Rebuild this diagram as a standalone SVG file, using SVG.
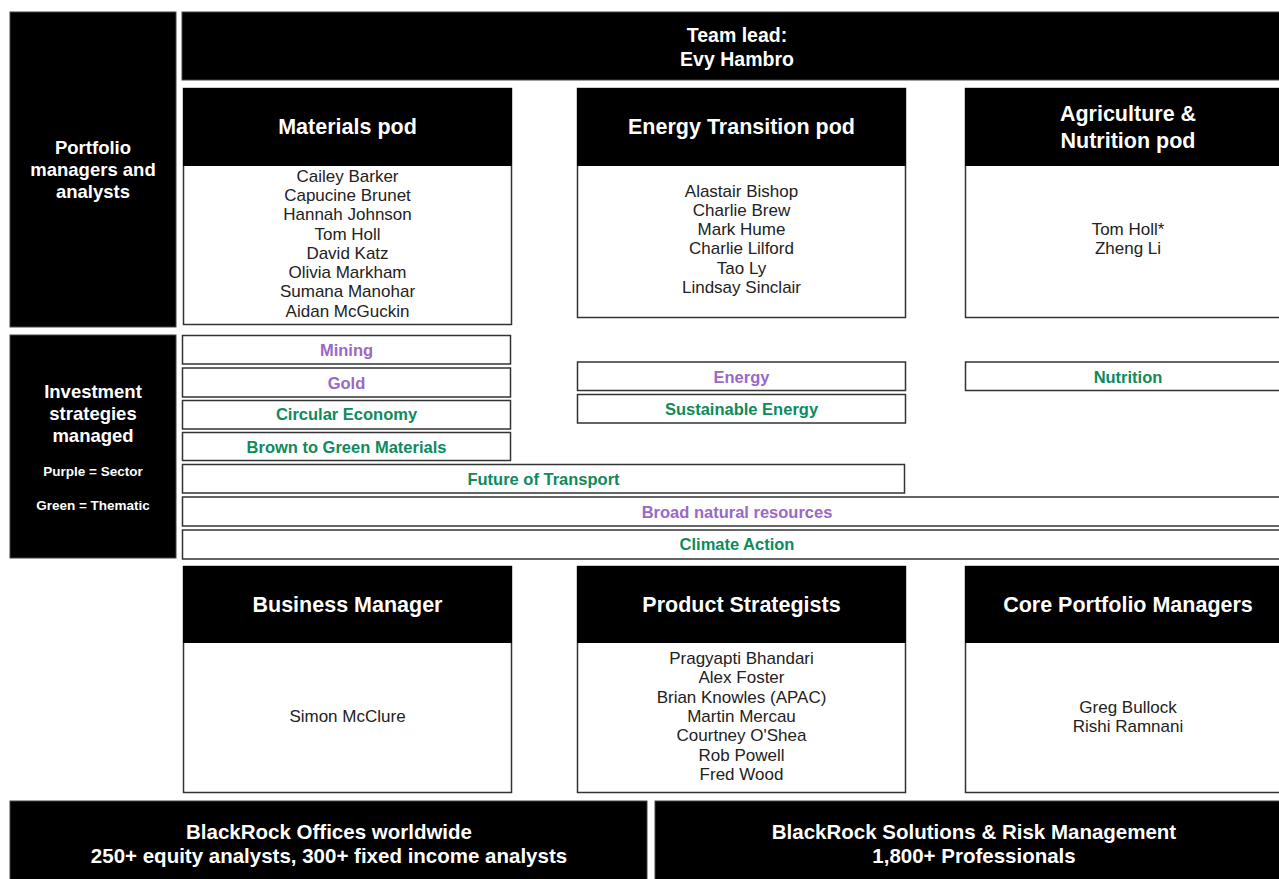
<svg xmlns="http://www.w3.org/2000/svg" width="1279" height="879" viewBox="0 0 1279 879">
<style>
.blk{fill:#000;stroke:#444;stroke-width:1}
.box{fill:#fff;stroke:#333;stroke-width:1.5}
text{font-family:"Liberation Sans",Arial,sans-serif;text-anchor:middle}
.hd{font-weight:bold;font-size:21.5px;fill:#fff}
.side{font-weight:bold;font-size:18.5px;fill:#fff}
.sm{font-weight:bold;font-size:13.5px;fill:#fff}
.nm{font-size:17px;fill:#222}
.lab{font-weight:bold;font-size:16.5px}
.pu{fill:#9a68c6}
.gr{fill:#0e8a5c}
.bt{font-weight:bold;font-size:19.5px;fill:#fff}
.bt2{font-weight:bold;font-size:20.5px;fill:#fff}
</style>
<rect width="1279" height="879" fill="#fff"/>
<g id="connectors"/>

<g id="side-portfolio">
<rect class="blk" x="10" y="12" width="166" height="315"/>
<text class="side" x="93" y="154">Portfolio</text>
<text class="side" x="93" y="176">managers and</text>
<text class="side" x="93" y="198">analysts</text>
</g>

<g id="team-lead">
<rect class="blk" x="182" y="12" width="1110" height="68"/>
<text class="bt" x="737" y="42">Team lead:</text>
<text class="bt" x="737" y="66">Evy Hambro</text>
</g>

<g id="materials-pod">
<rect class="box" x="183.5" y="88.5" width="328" height="236"/>
<rect x="183" y="88" width="329" height="78" fill="#000"/>
<text class="hd" x="347.5" y="134">Materials pod</text>
<text class="nm" x="347.5" y="182">Cailey Barker</text>
<text class="nm" x="347.5" y="201">Capucine Brunet</text>
<text class="nm" x="347.5" y="220">Hannah Johnson</text>
<text class="nm" x="347.5" y="239.5">Tom Holl</text>
<text class="nm" x="347.5" y="258.5">David Katz</text>
<text class="nm" x="347.5" y="278">Olivia Markham</text>
<text class="nm" x="347.5" y="297">Sumana Manohar</text>
<text class="nm" x="347.5" y="317">Aidan McGuckin</text>
</g>

<g id="energy-transition-pod">
<rect class="box" x="577.5" y="88.5" width="328" height="229"/>
<rect x="577" y="88" width="329" height="78" fill="#000"/>
<text class="hd" x="741.5" y="134">Energy Transition pod</text>
<text class="nm" x="741.5" y="197">Alastair Bishop</text>
<text class="nm" x="741.5" y="216">Charlie Brew</text>
<text class="nm" x="741.5" y="235">Mark Hume</text>
<text class="nm" x="741.5" y="254">Charlie Lilford</text>
<text class="nm" x="741.5" y="274">Tao Ly</text>
<text class="nm" x="741.5" y="293">Lindsay Sinclair</text>
</g>

<g id="agriculture-pod">
<rect class="box" x="965.5" y="88.5" width="328" height="229"/>
<rect x="965" y="88" width="329" height="78" fill="#000"/>
<text class="hd" x="1128" y="121">Agriculture &amp;</text>
<text class="hd" x="1128" y="148">Nutrition pod</text>
<text class="nm" x="1128" y="235">Tom Holl*</text>
<text class="nm" x="1128" y="254">Zheng Li</text>
</g>

<g id="side-strategies">
<rect class="blk" x="10" y="335" width="166" height="223"/>
<text class="side" x="93" y="398">Investment</text>
<text class="side" x="93" y="420">strategies</text>
<text class="side" x="93" y="442">managed</text>
<text class="sm" x="93" y="476">Purple = Sector</text>
<text class="sm" x="93" y="510">Green = Thematic</text>
</g>

<g id="strategy-mining">
<rect class="box" x="182.5" y="335.5" width="328" height="28.5"/>
<text class="lab pu" x="346.5" y="356">Mining</text>
</g>
<g id="strategy-gold">
<rect class="box" x="182.5" y="368" width="328" height="29"/>
<text class="lab pu" x="346.5" y="389">Gold</text>
</g>
<g id="strategy-circular">
<rect class="box" x="182.5" y="400.5" width="328" height="28.5"/>
<text class="lab gr" x="346.5" y="420">Circular Economy</text>
</g>
<g id="strategy-brown-green">
<rect class="box" x="182.5" y="432.5" width="328" height="28"/>
<text class="lab gr" x="346.5" y="453">Brown to Green Materials</text>
</g>
<g id="strategy-future-transport">
<rect class="box" x="182.5" y="464.5" width="722" height="28.5"/>
<text class="lab gr" x="543.5" y="485">Future of Transport</text>
</g>
<g id="strategy-broad">
<rect class="box" x="182.5" y="497" width="1110" height="29"/>
<text class="lab pu" x="737" y="518">Broad natural resources</text>
</g>
<g id="strategy-climate">
<rect class="box" x="182.5" y="530" width="1110" height="29"/>
<text class="lab gr" x="737" y="550">Climate Action</text>
</g>
<g id="strategy-energy">
<rect class="box" x="577.5" y="362" width="328" height="28.5"/>
<text class="lab pu" x="741.5" y="383">Energy</text>
</g>
<g id="strategy-sustainable-energy">
<rect class="box" x="577.5" y="394.5" width="328" height="28.5"/>
<text class="lab gr" x="741.5" y="415">Sustainable Energy</text>
</g>
<g id="strategy-nutrition">
<rect class="box" x="965.5" y="362" width="328" height="28.5"/>
<text class="lab gr" x="1128" y="383">Nutrition</text>
</g>

<g id="business-manager">
<rect class="box" x="183.5" y="566.5" width="328" height="226"/>
<rect x="183" y="566" width="329" height="77" fill="#000"/>
<text class="hd" x="347.5" y="612">Business Manager</text>
<text class="nm" x="347.5" y="722">Simon McClure</text>
</g>

<g id="product-strategists">
<rect class="box" x="577.5" y="566.5" width="328" height="226"/>
<rect x="577" y="566" width="329" height="77" fill="#000"/>
<text class="hd" x="741.5" y="612">Product Strategists</text>
<text class="nm" x="741.5" y="664">Pragyapti Bhandari</text>
<text class="nm" x="741.5" y="683">Alex Foster</text>
<text class="nm" x="741.5" y="703">Brian Knowles (APAC)</text>
<text class="nm" x="741.5" y="722">Martin Mercau</text>
<text class="nm" x="741.5" y="741">Courtney O'Shea</text>
<text class="nm" x="741.5" y="761">Rob Powell</text>
<text class="nm" x="741.5" y="780">Fred Wood</text>
</g>

<g id="core-portfolio-managers">
<rect class="box" x="965.5" y="566.5" width="328" height="226"/>
<rect x="965" y="566" width="329" height="77" fill="#000"/>
<text class="hd" x="1128" y="612">Core Portfolio Managers</text>
<text class="nm" x="1128" y="713">Greg Bullock</text>
<text class="nm" x="1128" y="732">Rishi Ramnani</text>
</g>

<g id="blackrock-offices">
<rect class="blk" x="10" y="801" width="637" height="80"/>
<text class="bt2" x="329" y="839">BlackRock Offices worldwide</text>
<text class="bt2" x="329" y="863">250+ equity analysts, 300+ fixed income analysts</text>
</g>

<g id="blackrock-solutions">
<rect class="blk" x="655" y="801" width="640" height="80"/>
<text class="bt2" x="974" y="839">BlackRock Solutions &amp; Risk Management</text>
<text class="bt2" x="974" y="863">1,800+ Professionals</text>
</g>
</svg>
